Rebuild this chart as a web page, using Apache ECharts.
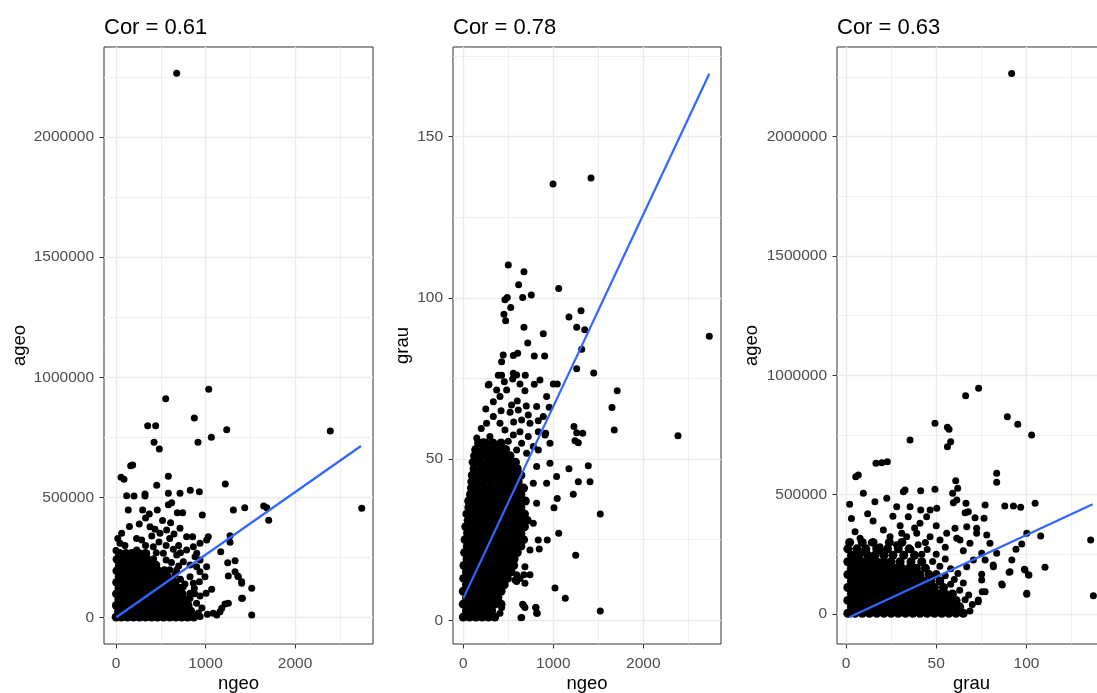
<!DOCTYPE html>
<html><head><meta charset="utf-8">
<script src="https://cdn.jsdelivr.net/npm/echarts@6/dist/echarts.min.js"></script>
<style>html,body{margin:0;padding:0;background:#fff}#c{width:1097px;height:693px}</style>
</head><body><div id="c"></div>
<script>
// ---------- Titles & tick labels ----------
const titles = ['Cor = 0.61', 'Cor = 0.78', 'Cor = 0.63'];
const ngeoTicks = [0, 1000, 2000];
const ageoTicks = [0, 500000, 1000000, 1500000, 2000000];
const grauTicksY = [0, 50, 100, 150];
const grauTicksX = [0, 50, 100];

// ---------- Panel 1: ngeo (x) vs ageo (y) ----------
// dense core read as rows: [ageo, [ngeo values]]
const ngeoAgeoCoreRows = [
  [3000, [2,60,128,195,262,330,398,465,532,600,668,735,800,868]],
  [27000, [30,95,162,230,298,365,432,500,565,632,700,768,835]],
  [51000, [5,64,130,198,265,332,400,468,535,602,670,738,805]],
  [75000, [32,98,165,232,300,368,435,502,570,636,704,772]],
  [99000, [6,66,132,200,268,335,402,470,538,605,672,740]],
  [123000, [34,100,168,235,302,370,438,505,572,640,700]],
  [147000, [8,68,135,202,270,338,405,472,540,608,660]],
  [171000, [36,102,170,238,305,372,440,508,575]],
  [195000, [10,70,138,205,272,340,408,470,540]],
  [219000, [38,104,172,240,308,375,445]],
  [243000, [12,72,140,208,275,350]],
  [267000, [40,110,180,255,330]]
];
const ngeoAgeoScatter = [
  [678,2265000],[1036,950400],[555,911300],[354,799000],[443,799000],[875,831000],[1237,782300],[2394,776800],
  [425,729800],[484,702000],[916,729800],[1065,750600],[164,632500],[186,635400],[56,584200],[89,575900],
  [585,588400],[1221,556300],[455,550900],[830,530000],[931,524300],[585,517600],[715,517600],[119,507600],
  [201,506400],[324,514700],[324,506400],[2745,455200],[1650,464800],[1684,457700],[1438,457700],[1311,448100],
  [1706,405300],[964,427300],[137,448100],[298,448100],[372,431500],[461,448100],[585,470200],[622,478500],
  [685,436900],[745,436900],[63,351200],[1274,341200],[1274,313700],[1170,274600],[1248,228900],[1330,237200],
  [1255,173500],[1330,191400],[1360,173500],[1404,149800],[1516,122300],[1412,80700],[1255,59900],[1218,57000],
  [1516,11200],[1126,11200],[1021,14100],[797,8300],[1069,118200],[1006,101500],[939,90300],[827,80700],
  [808,73600],[875,122300],[931,149800],[994,170600],[1013,212200],[939,240100],[902,268000],[864,295400],
  [939,309600],[1013,323300],[1031,337000],[380,378800],[436,367700],[491,351000],[566,364900],[610,395400],
  [648,348300],[715,371800],[789,337200],[856,337200],[287,323300],[417,295600],[231,281700],[343,267800],
  [529,267800],[678,260900],[789,281700],[883,253900],[156,267800],[45,309400],[194,233100],[752,233100],
  [827,219300],[901,212400],[938,191500],[678,198500],[827,170800],[864,143000],[752,129100],[827,101400],
  [715,59800],[789,32000],[678,18200],[566,32000],[1367,170600],[1404,143100],[1404,80700],[1181,39100],
  [1162,25000],[1087,18300],[230,330000],[330,300000],[480,315000],[560,300000],[600,330000],[400,340000],
  [150,380000],[260,390000],[520,405000],[330,415000],[700,300000],[640,285000],[720,270000],[450,270000],
  [100,300000],[20,330000],[0,280000],[420,245000],[560,240000],[620,230000],[700,215000],[600,200000],
  [660,180000],[720,160000],[770,140000],[880,100000],[900,60000],[960,40000],[920,20000],[940,5000]
];
const ngeoAgeoFit = [[3,2000],[2737,714400]];

// ---------- Panel 2: ngeo (x) vs grau (y) ----------
// dense core rows: [grau, [ngeo values]]
const ngeoGrauCoreRows = [
  [1, [0,70,140,210,280,350]],
  [3, [35,105,175,245,315]],
  [5, [0,70,140,210,280,350,420]],
  [7, [35,105,175,245,315,385]],
  [9, [0,70,140,210,280,350,420]],
  [11, [35,105,175,245,315,385,455]],
  [13, [5,70,140,210,280,350,420,490]],
  [15, [35,105,175,245,315,385,455,530]],
  [17, [8,75,140,210,280,350,420,490,560]],
  [19, [42,112,188,262,338,412,488,565]],
  [21, [15,80,150,225,300,375,450,525,600]],
  [23, [45,115,188,262,338,412,488,565,640]],
  [25, [20,82,150,225,300,375,450,525,600,670]],
  [27, [48,115,188,262,338,412,488,565,640]],
  [29, [28,85,150,225,300,375,450,525,600,680]],
  [31, [55,118,188,262,338,412,488,565,640,710]],
  [33, [40,90,152,225,300,375,450,525,600,680]],
  [35, [62,120,188,262,338,412,488,565,640]],
  [37, [60,125,155,225,300,375,450,525,600,690]],
  [39, [80,135,190,262,338,412,488,565,640]],
  [41, [90,155,225,300,375,450,525,600,670]],
  [43, [95,165,235,310,385,460,535,610]],
  [45, [100,180,260,335,410,480,560,640]],
  [47, [120,205,285,360,440,520,600]],
  [49, [110,185,265,345,425,500,580]],
  [51, [125,200,280,360,440,520]],
  [53, [140,230,310,390,470]],
  [55, [170,250,330,420]]
];
const ngeoGrauScatter = [
  [500,110.2],[674,108.1],[615,104.1],[1060,102.9],[463,99.4],[489,100.1],[527,97.0],[660,100.1],[756,100.9],
  [452,94.9],[471,92.9],[1174,94.1],[1308,96.0],[674,90.9],[716,86.0],[889,88.9],[1260,90.9],[1349,90.1],
  [2733,88.1],[1316,84.1],[444,82.3],[426,80.2],[556,82.1],[604,82.8],[789,82.0],[904,82.0],[1260,78.0],
  [1449,76.7],[389,76.0],[426,76.0],[556,76.6],[593,76.1],[689,76.0],[286,73.2],[456,74.0],[549,74.8],
  [630,73.3],[685,71.2],[789,73.2],[852,74.5],[1000,73.3],[1044,73.3],[1710,71.2],[1652,66.0],[1677,59.0],
  [2385,57.2],[926,69.4],[955,66.1],[1230,60.1],[1260,58.2],[1327,58.0],[1241,55.7],[1278,55.1],[833,61.9],
  [915,58.0],[1174,47.0],[1389,47.9],[1278,43.0],[1408,43.0],[1222,39.1],[1044,37.8],[1008,34.9],[1522,33.0],
  [1060,27.0],[933,24.9],[844,22.1],[1249,20.2],[1019,10.0],[1133,6.8],[1522,2.9],[641,0.8],[808,4.0],
  [822,2.2],[660,5.0],[685,4.0],[426,4.0],[408,2.2],[593,14.1],[630,13.0],[574,12.5],[741,14.1],[685,11.5],
  [482,14.1],[593,12.0],[674,14.1],[997,135.3],[1419,137.2],[649,0.9],[667,4.7],[804,4.0],[815,2.2],
  [334,67.8],[408,69.4],[537,66.8],[611,65.2],[648,62.1],[722,63.7],[741,61.1],[630,58.5],[722,57.0],
  [834,58.5],[908,57.5],[963,54.9],[834,52.8],[334,63.2],[259,61.1],[408,61.1],[463,59.0],[556,57.5],
  [648,54.9],[778,53.9],[704,51.8],[593,52.8],[222,55.4],[296,57.0],[185,51.8],[130,52.8],[371,71.4],
  [482,71.4],[278,73.0],[815,66.3],[889,63.2],[963,48.7],[1037,44.6],[926,42.5],[815,47.7],[778,42.5],
  [815,36.3],[778,30.1],[833,24.9],[741,21.8],[685,16.6],[150,56.5],[260,52.0],[380,54.5],[500,55.5],
  [450,51.5],[330,50.5],[200,59.5],[560,61.5],[520,64.5],[420,65.0],[250,65.5],[600,68.0],[700,66.5]
];
const ngeoGrauFit = [[0,6.8],[2733,169.5]];

// ---------- Panel 3: grau (x) vs ageo (y) ----------
// dense core rows: [ageo, [grau values]]
const grauAgeoCoreRows = [
  [3000, [1,5,9,13,17,21,25,29,33,37,41,45,49,53,57,61,65]],
  [30000, [3,7,11,15,19,23,27,31,35,39,43,47,51,55,59,63]],
  [57000, [1,5,9,13,17,21,25,29,33,37,41,45,49,53,57,61]],
  [84000, [3,7,11,15,19,23,27,31,35,39,43,47,51,55,59]],
  [111000, [1,5,9,13,17,21,25,29,33,37,41,45,49,54]],
  [138000, [3,7,11,15,19,23,27,31,35,39,43,47,52]],
  [165000, [1,5,9,13,17,21,25,29,33,37,41,46,50]],
  [192000, [3,7,11,15,19,23,27,31,35,39,44]],
  [219000, [1,5,9,13,17,21,25,30,36,42]],
  [246000, [3,7,12,16,21,26,32,38]],
  [273000, [1,6,11,17,23,29,35]],
  [300000, [2,9,15,24,31]]
];
const grauAgeoScatter = [
  [91.8,2265000],[73.5,945700],[66.3,914700],[89.4,826700],[95.2,794800],[102.9,750000],[49.3,799000],
  [56.2,782300],[57.1,773900],[35.5,729100],[58.0,722000],[56.2,701000],[16.6,631400],[19.8,634000],
  [22.9,638100],[5.4,575300],[6.8,582400],[83.5,589500],[83.5,551800],[9.6,505700],[22.6,484800],
  [31.8,512400],[32.7,519600],[41.4,516600],[49.3,522500],[60.8,558500],[61.9,526700],[59.1,505700],
  [59.5,466400],[61.4,477700],[66.5,463800],[66.0,424500],[67.8,428600],[71.5,403500],[76.5,401000],
  [77.1,456700],[88.0,452500],[92.8,452500],[96.8,447000],[104.8,463800],[100.2,338100],[107.9,326800],
  [135.6,310100],[97.4,293300],[94.2,271100],[91.9,226300],[83.5,254300],[81.7,198200],[86.3,125700],
  [90.4,174700],[98.9,187300],[101.4,163400],[100.2,82500],[110.3,195700],[137.1,76700],[75.2,142500],
  [77.1,93400],[73.3,58700],[68.7,12600],[72.4,338100],[78.0,331000],[79.8,296200],[75.2,254300],
  [70.6,226300],[77.1,226300],[66.9,198200],[63.2,310100],[65.0,265200],[50.3,442900],[46.6,435800],
  [41.4,435800],[44.7,407700],[41.0,380000],[34.5,407700],[28.1,449600],[35.5,449600],[20.7,352000],
  [5.0,344800],[7.8,317200],[11.5,254300],[8.7,261000],[18.8,282000],[24.4,323900],[30.9,338100],
  [33.6,323900],[39.2,338100],[46.6,323900],[52.1,310100],[55.8,338100],[61.4,317200],[60.4,359100],
  [66.9,365800],[72.4,359100],[68.7,296200],[73.3,51500],[75.5,93000],[75.2,167000],[86.6,121500],
  [81.6,205000],[90.9,177000],[99.2,184000],[101.1,163000],[100.2,86700],[40,290000],[45,270000],
  [50,250000],[55,230000],[48,220000],[52,200000],[58,190000],[62,170000],[55,160000],[60,145000],
  [65,130000],[58,125000],[63,100000],[68,80000],[66,60000],[70,40000],[62,20000],[14,300000],[20,260000],
  [28,290000],[36,270000],[42,250000],[30,370000],[15,390000],[26,410000],[12,420000],[50,370000],
  [55,280000],[3,400000],[2,460000],[16,470000],[38,360000],[44,300000]
];
const grauAgeoFit = [[1.8,-13800],[136.7,459600]];

// ---------- build ----------
function expandRows(rows) {
  const out = [];
  rows.forEach(function (r) { r[1].forEach(function (x) { out.push([x, r[0]]); }); });
  return out;
}
const cores = [expandRows(ngeoAgeoCoreRows), expandRows(ngeoGrauCoreRows), expandRows(grauAgeoCoreRows)];
const scatters = [ngeoAgeoScatter, ngeoGrauScatter, grauAgeoScatter];
const fits = [ngeoAgeoFit, ngeoGrauFit, grauAgeoFit];

const FONT = "'Liberation Sans', Arial, Helvetica, sans-serif";
const grids = [
  {left: 104, top: 47, width: 269, height: 597},
  {left: 453, top: 47, width: 268, height: 597},
  {left: 837, top: 47, width: 269, height: 597}
];
function mkAxis(isX, idx, min, max, split, ticks, name, gap) {
  const ax = {
    type: 'value', gridIndex: idx, min: min, max: max, splitNumber: split,
    name: name, nameLocation: 'middle', nameGap: gap, nameRotate: isX ? 0 : 90,
    nameTextStyle: {color: '#000', fontSize: 18.5, fontFamily: FONT},
    axisLine: {show: false, onZero: false},
    axisTick: {show: true, length: 4.5, lineStyle: {color: '#333', width: 1}, customValues: ticks},
    axisLabel: {customValues: ticks, color: '#4d4d4d', fontSize: 15.5, fontFamily: FONT, margin: isX ? 12 : 10,
      formatter: function (v) { return String(v); }},
    splitLine: {show: true, lineStyle: {color: '#ebebeb', width: 1.4}},
    minorTick: {show: false, splitNumber: 2},
    minorSplitLine: {show: true, lineStyle: {color: '#ebebeb', width: 0.8}}
  };
  if (isX) ax.nameMoveOverlap = false;
  return ax;
}
const titleLefts = [104, 453, 837];
const dotStyle = {color: '#000', opacity: 1, borderWidth: 0};
const lineStyle = {color: '#3366FF', width: 2.2, opacity: 1};
const series = [];
for (let i = 0; i < 3; i++) {
  series.push({type: 'scatter', xAxisIndex: i, yAxisIndex: i, data: cores[i], symbolSize: 9, itemStyle: dotStyle, silent: true});
  series.push({type: 'scatter', xAxisIndex: i, yAxisIndex: i, data: scatters[i], symbolSize: 7, itemStyle: dotStyle, silent: true});
}
for (let i = 0; i < 3; i++) {
  series.push({type: 'line', xAxisIndex: i, yAxisIndex: i, data: fits[i], showSymbol: false, lineStyle: lineStyle, z: 5, silent: true});
}
const option = {
  animation: false,
  backgroundColor: '#fff',
  title: titles.map(function (t, i) {
    return {text: t, left: titleLefts[i], top: 17, padding: 0,
      textStyle: {color: '#000', fontSize: 22, fontWeight: 'normal', fontFamily: FONT}};
  }),
  grid: grids.map(function (g) {
    return Object.assign({show: true, borderColor: '#333', borderWidth: 1, backgroundColor: 'transparent',
      containLabel: false, outerBoundsMode: 'none'}, g);
  }),
  xAxis: [
    mkAxis(true, 0, -134, 2871, 3, ngeoTicks, 'ngeo', 30),
    mkAxis(true, 1, -114, 2863, 3, ngeoTicks, 'ngeo', 30),
    mkAxis(true, 2, -5, 144.1, 3, grauTicksX, 'grau', 30)
  ],
  yAxis: [
    mkAxis(false, 0, -109400, 2374700, 5, ageoTicks, 'ageo', 75),
    mkAxis(false, 1, -7.35, 177.8, 4, grauTicksY, 'grau', 41),
    mkAxis(false, 2, -125700, 2375700, 5, ageoTicks, 'ageo', 76)
  ],
  series: series
};
const chart = echarts.init(document.getElementById('c'), null, {renderer: 'canvas'});
chart.setOption(option);
</script>
</body></html>
